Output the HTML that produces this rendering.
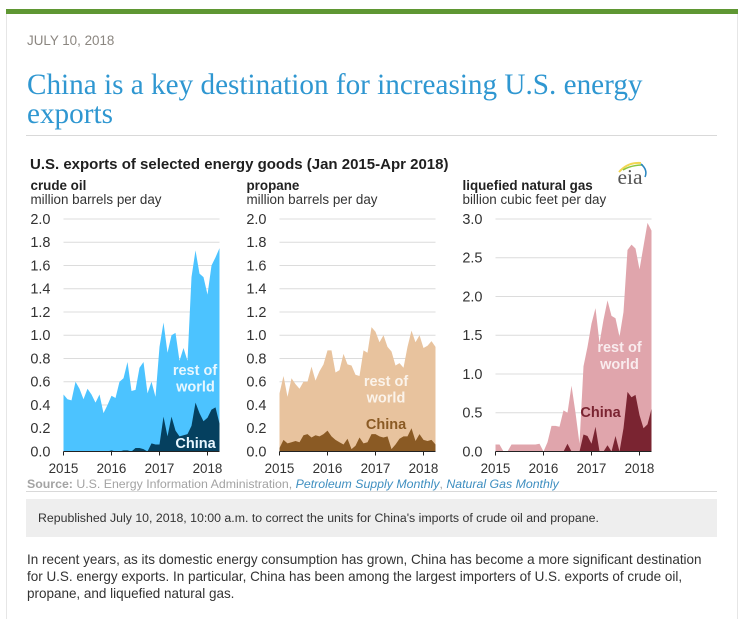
<!DOCTYPE html>
<html lang="en">
<head>
<meta charset="utf-8">
<title>China is a key destination for increasing U.S. energy exports</title>
<style>
  html, body { margin: 0; padding: 0; background: #fff; }
  body { width: 749px; height: 611px; overflow: hidden; position: relative; font-family: "Liberation Sans", Arial, sans-serif; }
  .abs { position: absolute; white-space: nowrap; }
  #card { position: absolute; left: 6px; top: 9px; width: 730px; height: 610px; border-left: 1px solid #e6e6e6; border-right: 1px solid #e6e6e6; }
  #green-bar { position: absolute; left: 6px; top: 9px; width: 732px; height: 5px; background: #5f9733; }
  #date { left: 27px; top: 33px; font-size: 13.4px; line-height: 16px; color: #8b8680; }
  #title { left: 27px; top: 71px; font-family: "Liberation Serif", serif; font-size: 29.2px; line-height: 29px; color: #2f97d1; font-weight: normal; margin: 0; }
  .rule { position: absolute; left: 26px; width: 691px; height: 1px; background: #d9d9d9; }
  #chart { position: absolute; left: 0; top: 0; }
  #source { left: 27px; top: 477px; font-size: 12.34px; line-height: 15px; color: #a3a3a3; }
  #source b { color: #a3a3a3; }
  #source a { color: #3f8fc0; font-style: italic; text-decoration: none; }
  #notice { position: absolute; left: 26px; top: 499px; width: 691px; height: 38px; background: #eeeeee; }
  #notice span { position: absolute; left: 12px; top: 11px; font-size: 12.33px; line-height: 16px; color: #333; white-space: nowrap; }
  .para { left: 27px; font-size: 13.48px; line-height: 17px; color: #333; }
</style>
</head>
<body>
<div id="card"></div>
<div id="green-bar"></div>
<div id="date" class="abs">JULY 10, 2018</div>
<h1 id="title" class="abs">China is a key destination for increasing U.S. energy<br>exports</h1>
<div class="rule" style="top:135px"></div>

<svg id="chart" width="749" height="611" viewBox="0 0 749 611" font-family="'Liberation Sans', Arial, sans-serif">
  <text x="30" y="169" font-size="15" font-weight="bold" fill="#1f1f1f">U.S. exports of selected energy goods (Jan 2015-Apr 2018)</text>
  <g id="panels"></g>
  <g>
    <path d="M619 172 Q628 162 641 163" fill="none" stroke="#f2d652" stroke-width="2"/>
    <path d="M623 170 Q631 165 643 165" fill="none" stroke="#8cc63f" stroke-width="1.5"/>
    <path d="M641 164 Q648 170 645 177" fill="none" stroke="#2a86bf" stroke-width="1.5"/>
    <text x="617.5" y="184" font-family="'Liberation Serif', serif" font-size="21.5" fill="#555">eia</text>
  </g>
</svg>

<div id="source" class="abs"><b>Source:</b> U.S. Energy Information Administration, <a href="#">Petroleum Supply Monthly</a>, <a href="#">Natural Gas Monthly</a></div>
<div class="rule" style="top:491px"></div>
<div id="notice"><span>Republished July 10, 2018, 10:00 a.m. to correct the units for China's imports of crude oil and propane.</span></div>
<div class="abs para" style="top:551px">In recent years, as its domestic energy consumption has grown, China has become a more significant destination</div>
<div class="abs para" style="top:568px">for U.S. energy exports. In particular, China has been among the largest importers of U.S. exports of crude oil,</div>
<div class="abs para" style="top:585px">propane, and liquefied natural gas.</div>

<script>
// Monthly values, Jan 2015 - Apr 2018
const yearLabels = ['2015', '2016', '2017', '2018'];
const crudeTicks = ['0.0', '0.2', '0.4', '0.6', '0.8', '1.0', '1.2', '1.4', '1.6', '1.8', '2.0'];
const propaneTicks = ['0.0', '0.2', '0.4', '0.6', '0.8', '1.0', '1.2', '1.4', '1.6', '1.8', '2.0'];
const lngTicks = ['0.0', '0.5', '1.0', '1.5', '2.0', '2.5', '3.0'];

const crudeTotal = [0.49, 0.45, 0.44, 0.60, 0.54, 0.45, 0.54, 0.49, 0.42, 0.49, 0.33, 0.40, 0.48, 0.46, 0.60, 0.63, 0.77, 0.52, 0.53, 0.72, 0.77, 0.50, 0.60, 0.47, 0.90, 1.11, 0.85, 1.00, 1.02, 0.78, 0.89, 0.78, 1.50, 1.73, 1.53, 1.50, 1.35, 1.60, 1.67, 1.75];
const crudeChina = [0, 0, 0, 0, 0, 0, 0, 0, 0, 0, 0, 0, 0.01, 0, 0, 0.01, 0.01, 0, 0.03, 0.03, 0.02, 0, 0.07, 0.06, 0.06, 0.30, 0.13, 0.30, 0.18, 0.13, 0.14, 0.15, 0.22, 0.42, 0.33, 0.26, 0.29, 0.36, 0.38, 0.24];

const propaneTotal = [0.50, 0.65, 0.47, 0.63, 0.58, 0.54, 0.60, 0.60, 0.73, 0.61, 0.69, 0.75, 0.87, 0.87, 0.68, 0.70, 0.84, 0.75, 0.74, 0.66, 0.65, 0.87, 0.85, 1.07, 1.03, 0.94, 1.00, 0.90, 0.86, 0.74, 0.76, 0.72, 0.90, 1.04, 0.94, 1.00, 0.89, 0.91, 0.95, 0.90];
const propaneChina = [0.03, 0.10, 0.07, 0.08, 0.09, 0.08, 0.14, 0.15, 0.12, 0.14, 0.13, 0.15, 0.18, 0.13, 0.10, 0.08, 0.06, 0.11, 0.02, 0.05, 0.12, 0.07, 0.08, 0.15, 0.15, 0.13, 0.12, 0.13, 0.02, 0.06, 0.11, 0.13, 0.13, 0.20, 0.09, 0.15, 0.10, 0.09, 0.10, 0.06];

const lngTotal = [0.09, 0.09, 0, 0, 0.09, 0.09, 0.09, 0.09, 0.09, 0.09, 0.09, 0.10, 0, 0.12, 0.33, 0.33, 0.32, 0.53, 0.50, 0.85, 0.50, 0.10, 1.10, 1.35, 1.65, 1.85, 1.40, 1.70, 1.95, 1.75, 1.72, 1.48, 1.80, 2.60, 2.67, 2.62, 2.35, 2.65, 2.95, 2.85];
const lngChina = [0, 0, 0, 0, 0, 0, 0, 0, 0, 0, 0, 0, 0, 0, 0, 0, 0, 0, 0.10, 0, 0, 0, 0.22, 0.20, 0.10, 0.32, 0, 0, 0.08, 0, 0.20, 0, 0.30, 0.77, 0.70, 0.73, 0.47, 0.30, 0.35, 0.55];

const SVG_NS = 'http://www.w3.org/2000/svg';
const panelsGroup = document.getElementById('panels');
const PLOT_TOP = 219;
const PLOT_BOTTOM = 451.5;
const PLOT_WIDTH = 156;

function make(tag, parent) {
  const el = document.createElementNS(SVG_NS, tag);
  parent.appendChild(el);
  return el;
}

function areaPath(values, xFn, yFn) {
  let d = 'M' + xFn(0) + ' ' + yFn(0);
  values.forEach(function (v, i) { d += 'L' + xFn(i) + ' ' + yFn(v); });
  d += 'L' + xFn(values.length - 1) + ' ' + yFn(0) + 'Z';
  return d;
}

function addLabel(parent, text, x, y, color) {
  const t = make('text', parent);
  
  
  t.setAttribute('x', x);
  t.setAttribute('y', y);
  t.setAttribute('text-anchor', 'middle');
  t.setAttribute('font-size', '14.5');
  t.setAttribute('font-weight', 'bold');
  t.setAttribute('fill', color);
  t.textContent = text;
}

function drawPanel(p) {
  const g = make('g', panelsGroup);
  
  
  const maxV = parseFloat(p.ticks[p.ticks.length - 1]);
  const xFn = function (i) { return p.left + i * PLOT_WIDTH / (p.total.length - 1); };
  const yFn = function (v) { return PLOT_BOTTOM - v / maxV * (PLOT_BOTTOM - PLOT_TOP); };

  const heading = make('text', g);
  
  
  heading.setAttribute('x', p.left - 33);
  heading.setAttribute('y', 190);
  heading.setAttribute('font-size', '13.4');
  heading.setAttribute('font-weight', 'bold');
  heading.setAttribute('fill', '#222');
  heading.textContent = p.heading;

  const unit = make('text', g);
  
  
  unit.setAttribute('x', p.left - 33);
  unit.setAttribute('y', 204);
  unit.setAttribute('font-size', '13.4');
  unit.setAttribute('fill', '#333');
  unit.textContent = p.unit;

  p.ticks.forEach(function (label) {
    const v = parseFloat(label);
    if (v > 0) {
      const line = make('line', g);
      
      
      line.setAttribute('x1', p.left);
      line.setAttribute('x2', p.left + PLOT_WIDTH);
      line.setAttribute('y1', yFn(v));
      line.setAttribute('y2', yFn(v));
      line.setAttribute('stroke', '#dcdcdc');
      line.setAttribute('stroke-width', '1');
    }
    const t = make('text', g);
    
    
    t.setAttribute('x', p.left - 13);
    t.setAttribute('y', yFn(v) + 4.8);
    t.setAttribute('text-anchor', 'end');
    t.setAttribute('font-size', '14.5');
    t.setAttribute('fill', '#333');
    t.textContent = label;
  });

  const totalArea = make('path', g);
  
  
  totalArea.setAttribute('d', areaPath(p.total, xFn, yFn));
  totalArea.setAttribute('fill', p.restColor);

  const chinaArea = make('path', g);
  
  
  chinaArea.setAttribute('d', areaPath(p.china, xFn, yFn));
  chinaArea.setAttribute('fill', p.chinaColor);

  const axis = make('line', g);
  
  
  axis.setAttribute('x1', p.left);
  axis.setAttribute('x2', p.left + PLOT_WIDTH);
  axis.setAttribute('y1', PLOT_BOTTOM);
  axis.setAttribute('y2', PLOT_BOTTOM);
  axis.setAttribute('stroke', '#222');
  axis.setAttribute('stroke-width', '1');

  yearLabels.forEach(function (year, k) {
    const tx = xFn(k * 12);
    const tick = make('line', g);
    
    
    tick.setAttribute('x1', tx);
    tick.setAttribute('x2', tx);
    tick.setAttribute('y1', PLOT_BOTTOM);
    tick.setAttribute('y2', PLOT_BOTTOM + 4);
    tick.setAttribute('stroke', '#222');
    tick.setAttribute('stroke-width', '1');
    const t = make('text', g);
    
    
    t.setAttribute('x', tx);
    t.setAttribute('y', 473);
    t.setAttribute('text-anchor', 'middle');
    t.setAttribute('font-size', '13.4');
    t.setAttribute('fill', '#333');
    t.textContent = year;
  });

  p.labels.forEach(function (l) { addLabel(g, l[0], l[1], l[2], l[3]); });
}

drawPanel({
  name: 'crude-oil', heading: 'crude oil', unit: 'million barrels per day', left: 63.5,
  ticks: crudeTicks, total: crudeTotal, china: crudeChina,
  restColor: '#4cc3ff', chinaColor: '#05405f',
  labels: [['rest of', 195, 375, '#e8f7ff'], ['world', 195.5, 391.5, '#e8f7ff'], ['China', 195.5, 448, '#e8f7ff']]
});
drawPanel({
  name: 'propane', heading: 'propane', unit: 'million barrels per day', left: 279.5,
  ticks: propaneTicks, total: propaneTotal, china: propaneChina,
  restColor: '#e8c39e', chinaColor: '#8a5a24',
  labels: [['rest of', 386, 386, '#fbf3ea'], ['world', 386, 402.5, '#fbf3ea'], ['China', 386, 429, '#8a5a24']]
});
drawPanel({
  name: 'lng', heading: 'liquefied natural gas', unit: 'billion cubic feet per day', left: 495.5,
  ticks: lngTicks, total: lngTotal, china: lngChina,
  restColor: '#e0a5ac', chinaColor: '#7a2431',
  labels: [['rest of', 619.5, 352, '#f9ecee'], ['world', 619.5, 369, '#f9ecee'], ['China', 600.5, 417, '#7a2431']]
});
</script>
</body>
</html>
